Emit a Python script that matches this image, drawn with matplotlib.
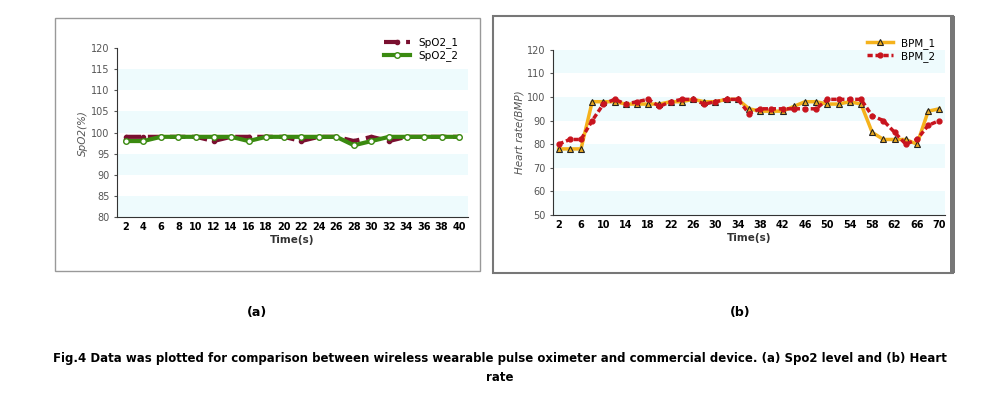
import matplotlib
matplotlib.use("Agg")
import matplotlib.pyplot as plt
from matplotlib.patches import Rectangle

t_spo2 = list(range(2, 41, 2))
spo2_1 = [99,99,99,99,99,98,99,99,99,99,98,99,99,98,99,98,99,99,99,99]
spo2_2 = [98,98,99,99,99,99,99,98,99,99,99,99,99,97,98,99,99,99,99,99]
t_bpm = list(range(2, 71, 2))
bpm_1 = [78,78,78,98,98,98,97,97,97,97,98,98,99,98,98,99,99,95,94,94,94,96,98,98,97,97,98,97,85,82,82,82,80,94,95]
bpm_2 = [80,82,82,90,97,99,97,98,99,96,98,99,99,97,98,99,99,93,95,95,95,95,95,95,99,99,99,99,92,90,85,80,82,88,90]

fig = plt.figure(figsize=(10, 4.08), dpi=100)
band = "#eefbfd"
fig.add_artist(Rectangle((0.055, 0.335), 0.425, 0.62, transform=fig.transFigure, fill=False, ec="#999999", lw=1))
fig.add_artist(Rectangle((0.493, 0.330), 0.460, 0.63, transform=fig.transFigure, fill=False, ec="#777777", lw=1.5))
fig.add_artist(Rectangle((0.950, 0.330), 0.005, 0.63, transform=fig.transFigure, fc="#777777", ec="none"))

def style(ax, ylab, lo, hi, step, bands):
    for b in bands:
        ax.axhspan(b[0], b[1], color=band, lw=0, zorder=0)
    ax.set_ylim(lo, hi)
    ax.set_yticks(range(lo, hi + 1, step))
    for s in ("top", "right"):
        ax.spines[s].set_visible(False)
    for s in ("left", "bottom"):
        ax.spines[s].set_color("#333333")
    ax.tick_params(axis="y", labelsize=7, colors="#555555", length=2)
    ax.tick_params(axis="x", labelsize=7, length=0)
    for l in ax.get_xticklabels():
        l.set_fontweight("bold")
    ax.set_ylabel(ylab, fontsize=7.5, style="italic", color="#555555", labelpad=2)
    ax.set_xlabel("Time(s)", fontsize=7.5, fontweight="bold", color="#333333", labelpad=2)

ax1 = fig.add_axes([0.117, 0.468, 0.351, 0.414])
ax1.plot(t_spo2, spo2_1, color="#7a1030", lw=3, ls="--", marker="o", ms=3, label="SpO2_1", zorder=3)
ax1.plot(t_spo2, spo2_2, color="#3a8a10", lw=3, marker="o", ms=4, mfc="white", mec="#3a8a10", label="SpO2_2", zorder=4)
ax1.set_xlim(1, 41)
ax1.set_xticks(t_spo2)
style(ax1, "SpO2(%)", 80, 120, 5, [(110, 115), (100, 105), (90, 95), (80, 85)])
ax1.legend(loc="upper right", bbox_to_anchor=(1.0, 1.12), frameon=False, fontsize=7.5, handlelength=2.5, labelspacing=0.2)

ax2 = fig.add_axes([0.553, 0.473, 0.392, 0.405])
ax2.plot(t_bpm, bpm_1, color="#f5b21c", lw=2.5, marker="^", ms=5, mfc="#e8a820", mec="#222222", mew=0.8, label="BPM_1", zorder=3)
ax2.plot(t_bpm, bpm_2, color="#c8141e", lw=2.5, ls=(0, (1.5, 0.8)), marker="o", ms=3.5, mfc="#c8141e", mec="#c8141e", label="BPM_2", zorder=4)
ax2.set_xlim(1, 71)
ax2.set_xticks(list(range(2, 71, 4)))
style(ax2, "Heart rate(BMP)", 50, 120, 10, [(110, 120), (90, 100), (70, 80), (50, 60)])
ax2.legend(loc="upper right", bbox_to_anchor=(1.0, 1.13), frameon=False, fontsize=7.5, handlelength=2.5, labelspacing=0.2)

fig.text(0.257, 0.225, "(a)", ha="center", fontsize=9, fontweight="bold")
fig.text(0.740, 0.225, "(b)", ha="center", fontsize=9, fontweight="bold")
fig.text(0.5, 0.098, "Fig.4 Data was plotted for comparison between wireless wearable pulse oximeter and commercial device. (a) Spo2 level and (b) Heart\nrate",
         ha="center", va="center", fontsize=8.5, fontweight="bold", linespacing=1.6)
fig.savefig("out.png", dpi=100)
